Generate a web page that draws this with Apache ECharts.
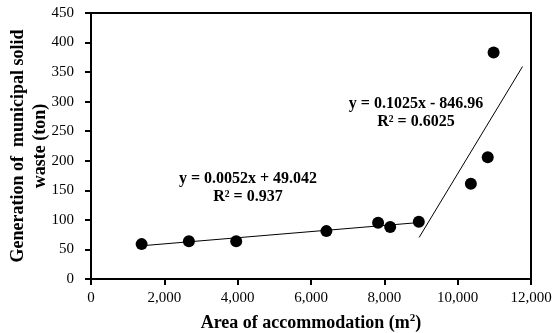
<!DOCTYPE html>
<html>
<head>
<meta charset="utf-8">
<script src="https://cdn.jsdelivr.net/npm/echarts@6/dist/echarts.min.js"></script>
<style>
	html, body { margin: 0; padding: 0; background: #fff; }
	#chart { width: 552px; height: 333px; }
</style>
</head>
<body>
<div id="chart"></div>
<script>
	// observed points (area m2, waste ton)
	var areaVals = [1380, 2670, 3960, 6420, 7830, 8160, 8940, 10360, 10820, 10980];
	var wasteVals = [59, 64, 64, 81, 95, 88, 97, 161, 206, 383];

	// linear trend lines, end points
	var trend1X = [1380, 8940];
	var trend1Y = [56.2, 95.5];
	var trend2X = [8950, 11770];
	var trend2Y = [70.4, 359.5];

	var xTicks = [0, 2000, 4000, 6000, 8000, 10000, 12000];
	var yTicks = [0, 50, 100, 150, 200, 250, 300, 350, 400, 450];

	function pairs(xs, ys) {
		var out = [];
		for (var i = 0; i < xs.length; i++) {
			out.push([xs[i], ys[i]]);
		}
		return out;
	}

	var font = '"Liberation Serif", "Times New Roman", serif';
	var myChart = echarts.init(document.getElementById('chart'));
	var option = {
		animation: false,
		textStyle: { fontFamily: font },
		grid: {
			show: true,
			left: 91,
			right: 21,
			top: 13,
			bottom: 54,
			containLabel: false,
			outerBoundsMode: 'none',
			borderColor: '#000',
			borderWidth: 2,
			backgroundColor: '#fff'
		},
		xAxis: {
			type: 'value',
			min: xTicks[0],
			max: xTicks[xTicks.length - 1],
			interval: 2000,
			name: '{b|Area of accommodation (m}{s|2}{b|)}',
			nameLocation: 'middle',
			nameGap: 34,
			nameMoveOverlap: false,
			nameTextStyle: {
				rich: {
					b: { fontFamily: font, fontWeight: 'bold', fontSize: 18, color: '#000' },
					s: { fontFamily: font, fontWeight: 'bold', fontSize: 11, color: '#000', verticalAlign: 'top', padding: [0, 0, 9, 0] }
				}
			},
			axisLine: { show: true, lineStyle: { color: '#000', width: 2 } },
			axisTick: { show: true, inside: false, length: 6, lineStyle: { color: '#000', width: 2 } },
			axisLabel: {
				color: '#000',
				fontSize: 15,
				fontFamily: font,
				margin: 12,
				formatter: function (v) { return v.toLocaleString('en-US'); }
			},
			splitLine: { show: false }
		},
		yAxis: {
			type: 'value',
			min: yTicks[0],
			max: yTicks[yTicks.length - 1],
			interval: 50,
			name: 'Generation of  municipal solid\nwaste (ton)',
			nameLocation: 'middle',
			nameGap: 40,
			nameMoveOverlap: false,
			nameTextStyle: {
				color: '#000',
				fontWeight: 'bold',
				fontSize: 18,
				fontFamily: font,
				lineHeight: 22
			},
			axisLine: { show: true, lineStyle: { color: '#000', width: 2 } },
			axisTick: { show: true, inside: false, length: 6, lineStyle: { color: '#000', width: 2 } },
			axisLabel: { color: '#000', fontSize: 15, fontFamily: font, margin: 17 },
			splitLine: { show: false }
		},
		series: [
			{
				type: 'line',
				data: pairs(trend1X, trend1Y),
				symbol: 'none',
				lineStyle: { color: '#000', width: 1 },
				z: 2
			},
			{
				type: 'line',
				data: pairs(trend2X, trend2Y),
				symbol: 'none',
				lineStyle: { color: '#000', width: 1 },
				z: 2
			},
			{
				type: 'scatter',
				data: pairs(areaVals, wasteVals),
				symbol: 'circle',
				symbolSize: 12,
				itemStyle: { color: '#000', opacity: 1 },
				z: 3
			}
		],
		graphic: [
			{
				type: 'text',
				x: 248,
				y: 170,
				style: {
					text: 'y = 0.0052x + 49.042\nR² = 0.937',
					font: 'bold 16px ' + font,
					fill: '#000',
					align: 'center',
					lineHeight: 18
				}
			},
			{
				type: 'text',
				x: 416,
				y: 95,
				style: {
					text: 'y = 0.1025x - 846.96\nR² = 0.6025',
					font: 'bold 16px ' + font,
					fill: '#000',
					align: 'center',
					lineHeight: 18
				}
			}
		]
	};
	myChart.setOption(option);
</script>
</body>
</html>
